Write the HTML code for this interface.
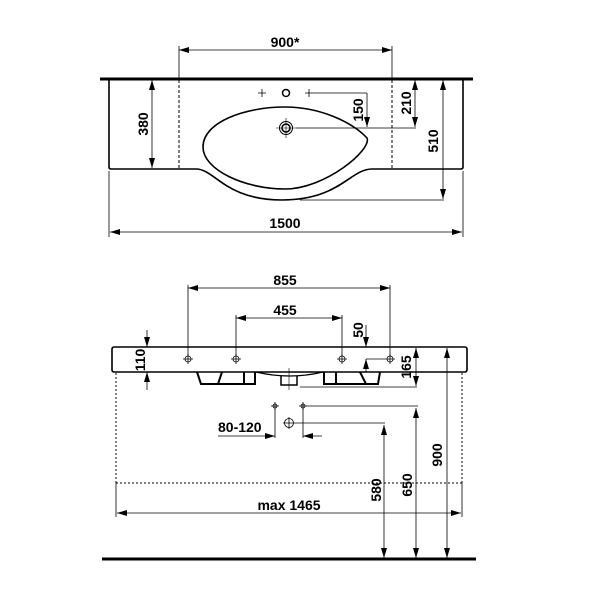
<!DOCTYPE html>
<html><head><meta charset="utf-8"><style>
html,body{margin:0;padding:0;background:#fff;}
text{font-family:"Liberation Sans",sans-serif;font-weight:bold;font-size:14px;fill:#000;}
</style></head><body>
<svg width="600" height="600" viewBox="0 0 600 600" xmlns="http://www.w3.org/2000/svg">
<defs>
<marker id="a" viewBox="0 0 10 6" refX="10" refY="3" markerWidth="10" markerHeight="6" orient="auto-start-reverse" markerUnits="userSpaceOnUse"><path d="M0,0L10,3L0,6z" fill="#000"/></marker>
</defs>
<g stroke="#000" fill="none">
<!-- TOP VIEW -->
<line x1="100" y1="79" x2="473" y2="79" stroke-width="3"/>
<path d="M109,79 V167 Q109,169 111,169 H196 C215,169 225,200 282,200 C340,200 350,169 372,169 H461 Q463,169 463,167 V79" stroke-width="1.6"/>
<line x1="179" y1="80" x2="179" y2="169" stroke-dasharray="3,2" stroke-width="1"/>
<line x1="392" y1="80" x2="392" y2="169" stroke-dasharray="3,2" stroke-width="1"/>
<line x1="179" y1="46" x2="179" y2="78" stroke-width="0.8"/>
<line x1="392" y1="46" x2="392" y2="78" stroke-width="0.8"/>
<line x1="179" y1="50" x2="392" y2="50" stroke-width="0.8" marker-start="url(#a)" marker-end="url(#a)"/>
<line x1="152" y1="80" x2="152" y2="168" stroke-width="0.8" marker-start="url(#a)" marker-end="url(#a)"/>
<path d="M203,147 C203,122 245,107 285,107 C320,107 352,122 367,138 C372,150 325,189 285,189 C245,189 203,170 203,147 Z" stroke-width="1.6"/>
<circle cx="286" cy="93" r="3.5" stroke-width="1.5"/>
<path d="M258,93h8M262,89v8M305,93h8M309,89v8" stroke-width="0.8"/>
<line x1="313" y1="93" x2="367" y2="93" stroke-width="0.8"/>
<circle cx="286" cy="128" r="6.5" stroke-width="1"/>
<circle cx="286" cy="128" r="4" stroke-width="1.5"/>
<path d="M276,128h20M286,118v20" stroke-width="0.6"/>
<line x1="296" y1="128" x2="416" y2="128" stroke-width="0.8"/>
<line x1="367" y1="93" x2="367" y2="127" stroke-width="0.8" marker-end="url(#a)"/>
<line x1="415" y1="80" x2="415" y2="127" stroke-width="0.8" marker-start="url(#a)" marker-end="url(#a)"/>
<line x1="443" y1="80" x2="443" y2="199" stroke-width="0.8" marker-start="url(#a)" marker-end="url(#a)"/>
<line x1="300" y1="200" x2="444" y2="200" stroke-width="0.8"/>
<line x1="109" y1="171" x2="109" y2="237" stroke-width="0.8"/>
<line x1="463" y1="171" x2="463" y2="237" stroke-width="0.8"/>
<line x1="110" y1="232" x2="462" y2="232" stroke-width="0.8" marker-start="url(#a)" marker-end="url(#a)"/>

<!-- FRONT VIEW -->
<line x1="188" y1="285" x2="188" y2="356" stroke-width="0.8"/>
<line x1="390" y1="285" x2="390" y2="356" stroke-width="0.8"/>
<line x1="188" y1="288" x2="390" y2="288" stroke-width="0.8" marker-start="url(#a)" marker-end="url(#a)"/>
<line x1="236" y1="315" x2="236" y2="356" stroke-width="0.8"/>
<line x1="342" y1="315" x2="342" y2="356" stroke-width="0.8"/>
<line x1="236" y1="318" x2="342" y2="318" stroke-width="0.8" marker-start="url(#a)" marker-end="url(#a)"/>
<rect x="112" y="347" width="355" height="25" rx="2" stroke-width="1.6"/>
<g stroke-width="0.8">
<circle cx="188" cy="359" r="3"/><path d="M183,359h10M188,354v10"/>
<circle cx="236" cy="359" r="3"/><path d="M231,359h10M236,354v10"/>
<circle cx="342" cy="359" r="3"/><path d="M337,359h10M342,354v10"/>
<circle cx="390" cy="359" r="3"/><path d="M385,359h10M390,354v10"/>
</g>
<g stroke-width="2">
<path d="M197,372 L201,384 H255 V372"/>
<path d="M222,372 L218,384"/>
<path d="M244,372 V384"/>
<path d="M324,372 V384 H378 L380,372"/>
<path d="M336,372 V384"/>
<path d="M360,372 L366,384"/>
</g>
<path d="M256,372 Q290,380 323,372" stroke-width="1.2"/>
<path d="M281,376 V385 H297 V376" stroke-width="1.5"/>
<line x1="289" y1="368" x2="289" y2="390" stroke-width="0.6"/>
<line x1="147" y1="330" x2="147" y2="347" stroke-width="0.8" marker-end="url(#a)"/>
<line x1="147" y1="390" x2="147" y2="372" stroke-width="0.8" marker-end="url(#a)"/>
<line x1="366" y1="325" x2="366" y2="347" stroke-width="0.8" marker-end="url(#a)"/>
<line x1="366" y1="372" x2="366" y2="359" stroke-width="0.8" marker-end="url(#a)"/>
<line x1="366" y1="359" x2="385" y2="359" stroke-width="0.8"/>
<line x1="416" y1="348" x2="416" y2="386" stroke-width="0.8" marker-start="url(#a)" marker-end="url(#a)"/>
<line x1="300" y1="387" x2="417" y2="387" stroke-width="0.8"/>
<line x1="116" y1="373" x2="116" y2="483" stroke-width="1" stroke-dasharray="2,2"/>
<line x1="462" y1="373" x2="462" y2="483" stroke-width="1" stroke-dasharray="2,2"/>
<line x1="116" y1="483" x2="462" y2="483" stroke-width="1" stroke-dasharray="2,2"/>
<line x1="116" y1="483" x2="116" y2="517" stroke-width="0.8"/>
<line x1="462" y1="483" x2="462" y2="517" stroke-width="0.8"/>
<line x1="117" y1="513" x2="461" y2="513" stroke-width="0.8" marker-start="url(#a)" marker-end="url(#a)"/>
<line x1="447" y1="348" x2="447" y2="558" stroke-width="0.8" marker-start="url(#a)" marker-end="url(#a)"/>
<g stroke-width="0.8">
<circle cx="275" cy="406" r="2"/><path d="M271,406h8M275,402v8"/>
<circle cx="303" cy="406" r="2"/><path d="M299,406h8M303,402v8"/>
<circle cx="289" cy="423" r="4.5"/><path d="M283,423h12M289,417v12"/>
</g>
<line x1="306" y1="406" x2="418" y2="406" stroke-width="0.8"/>
<line x1="295" y1="423" x2="385" y2="423" stroke-width="0.8"/>
<line x1="416" y1="408" x2="416" y2="558" stroke-width="0.8" marker-start="url(#a)" marker-end="url(#a)"/>
<line x1="384" y1="425" x2="384" y2="558" stroke-width="0.8" marker-start="url(#a)" marker-end="url(#a)"/>
<line x1="275" y1="409" x2="275" y2="438" stroke-width="0.8"/>
<line x1="303" y1="409" x2="303" y2="438" stroke-width="0.8"/>
<line x1="218" y1="436" x2="275" y2="436" stroke-width="0.8" marker-end="url(#a)"/>
<line x1="322" y1="436" x2="303" y2="436" stroke-width="0.8" marker-end="url(#a)"/>
<line x1="102" y1="559" x2="476" y2="559" stroke-width="3"/>
</g>
<!-- texts -->
<text x="285" y="47" text-anchor="middle">900*</text>
<text x="285" y="228" text-anchor="middle">1500</text>
<text x="285" y="285" text-anchor="middle">855</text>
<text x="285" y="315" text-anchor="middle">455</text>
<text x="289" y="510" text-anchor="middle">max 1465</text>
<text x="218" y="432">80-120</text>
<g>
<text transform="translate(148,124) rotate(-90)" text-anchor="middle">380</text>
<text transform="translate(363,110) rotate(-90)" text-anchor="middle">150</text>
<text transform="translate(411,103) rotate(-90)" text-anchor="middle">210</text>
<text transform="translate(438,141) rotate(-90)" text-anchor="middle">510</text>
<text transform="translate(145,360) rotate(-90)" text-anchor="middle">110</text>
<text transform="translate(363,330) rotate(-90)" text-anchor="middle">50</text>
<text transform="translate(411,367) rotate(-90)" text-anchor="middle">165</text>
<text transform="translate(442,455) rotate(-90)" text-anchor="middle">900</text>
<text transform="translate(412,485) rotate(-90)" text-anchor="middle">650</text>
<text transform="translate(381,490) rotate(-90)" text-anchor="middle">580</text>
</g>
</svg>
</body></html>
